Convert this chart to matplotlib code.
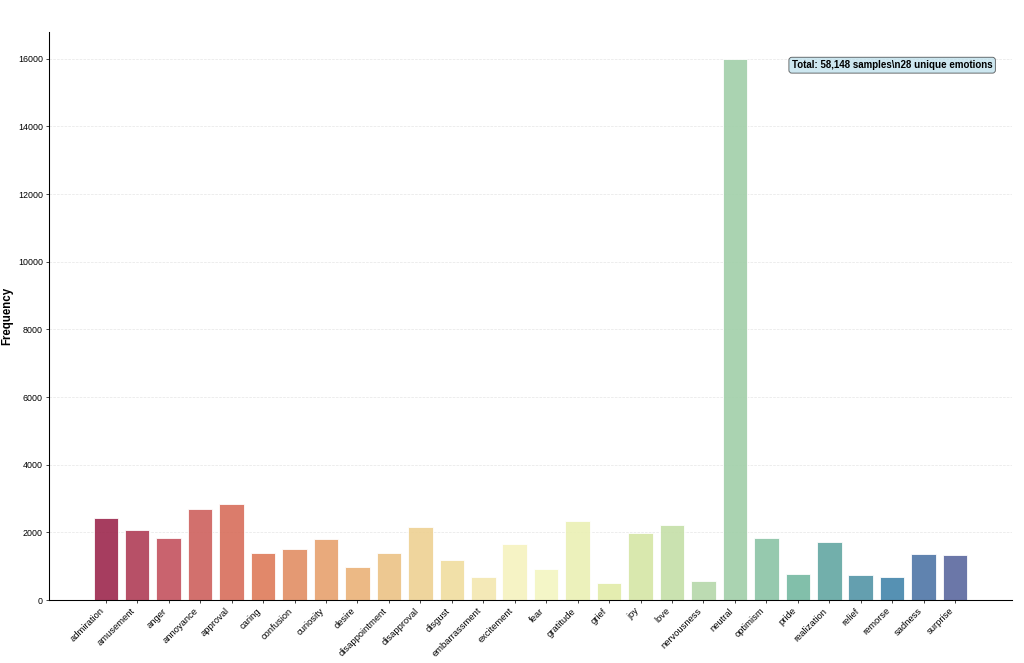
import matplotlib
matplotlib.use("Agg")
import matplotlib.pyplot as plt
import numpy as np
import colorsys

plt.rcParams["font.family"] = ["Liberation Sans", "DejaVu Sans"]

emotions = ["admiration", "amusement", "anger", "annoyance", "approval", "caring",
            "confusion", "curiosity", "desire", "disappointment", "disapproval",
            "disgust", "embarrassment", "excitement", "fear", "gratitude", "grief",
            "joy", "love", "nervousness", "neutral", "optimism", "pride",
            "realization", "relief", "remorse", "sadness", "surprise"]
counts = [2430, 2083, 1846, 2684, 2833, 1393, 1511, 1807, 966, 1400, 2172,
          1185, 670, 1659, 909, 2331, 494, 1995, 2212, 553, 15990, 1847, 760,
          1728, 731, 672, 1373, 1333]

n = len(emotions)
raw = plt.cm.Spectral(np.linspace(0, 1, n + 2)[1:-1])
colors = []
for c in raw:
    h, l, s = colorsys.rgb_to_hls(*c[:3])
    colors.append(colorsys.hls_to_rgb(h, l, s * 0.75))

fig = plt.figure(figsize=(16, 10.36), dpi=64)
ax = fig.add_axes([0.048, 0.095, 0.94, 0.857])

x = np.arange(n)
ax.bar(x, counts, width=0.78, color=colors, alpha=0.9, edgecolor="white", linewidth=1.0)

ax.set_xticks(x)
ax.set_xticklabels(emotions, rotation=45, ha="right", fontsize=10.5)
ax.tick_params(axis="y", labelsize=10)
ax.set_xlim(-1.8, 28.8)
ax.set_ylim(0, 16800)
ax.set_yticks(np.arange(0, 16001, 2000))
ax.set_ylabel("Frequency", fontsize=13, fontweight="bold")
ax.yaxis.set_label_coords(-0.037, 0.5)
ax.grid(axis="y", linestyle="--", alpha=0.3)
ax.set_axisbelow(True)
for s in ["top", "right"]:
    ax.spines[s].set_visible(False)
ax.spines["left"].set_linewidth(1.2)
ax.spines["bottom"].set_linewidth(1.2)

ax.text(0.98, 0.95, "Total: 58,148 samples\\n28 unique emotions", transform=ax.transAxes,
        ha="right", va="top", fontsize=11, fontweight="bold",
        bbox=dict(boxstyle="round,pad=0.3", facecolor="lightblue", alpha=0.6))

fig.savefig("out.png", dpi=64)
